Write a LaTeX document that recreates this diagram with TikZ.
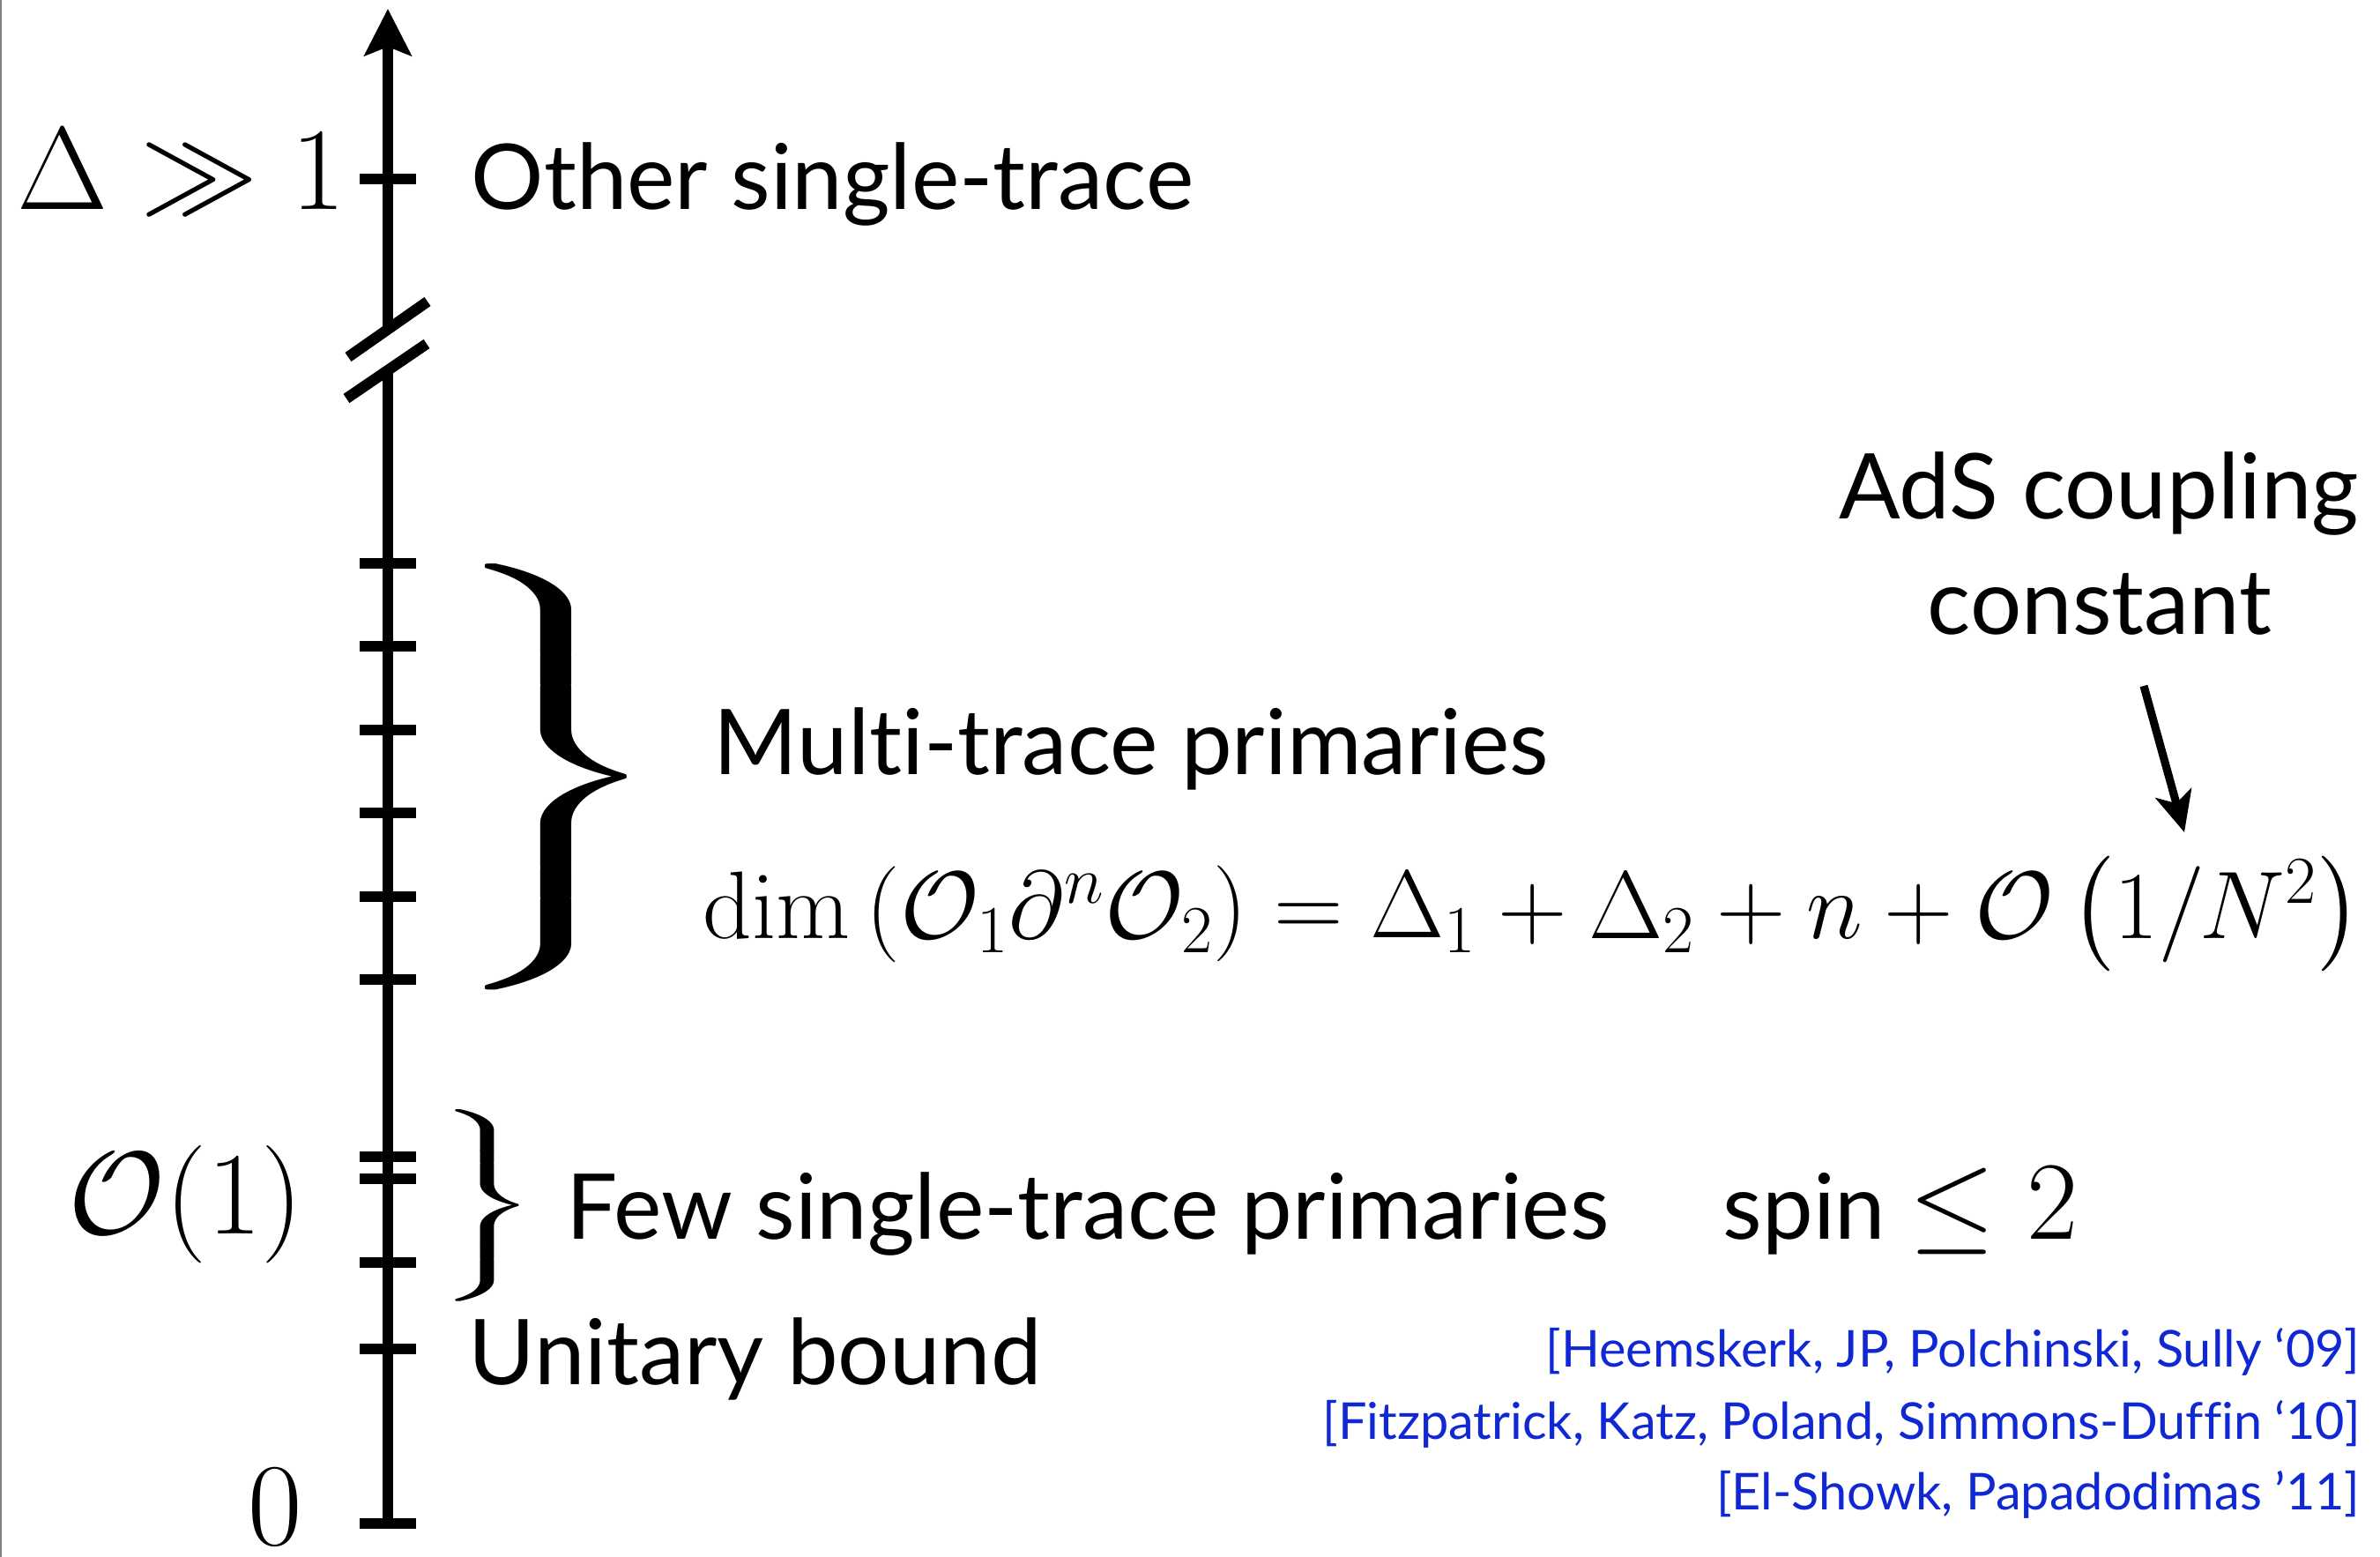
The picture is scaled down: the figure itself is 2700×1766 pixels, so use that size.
\RequirePackage{fix-cm}
\documentclass[tikz,border=0pt]{standalone}
\usepackage{amsmath,amssymb}
\usepackage[no-math]{fontspec}
\setmainfont{Lato}[Ligatures={TeX,NoCommon}]
\usepackage{graphicx}
\usepackage{xcolor}
\usepackage{tikz}
\usetikzlibrary{arrows.meta}

\definecolor{refblue}{RGB}{16,40,212}
\newcommand{\tallbrace}{{\nulldelimiterspace=0pt$\left.\vcenter{\hbox{\vrule height 4em width 0pt}}\right\}$}}

\begin{document}
\begin{tikzpicture}[x=0.1mm, y=-0.1mm,
				axisline/.style={line width=3.5pt},
				tickmark/.style={line width=3.5pt},
				lbl/.style={inner sep=0pt, font=\fontsize{29.3}{35}\selectfont},
				mlbl/.style={inner sep=0pt, font=\fontsize{38}{42}\selectfont},
				eqn/.style={inner sep=0pt, font=\fontsize{31}{36}\selectfont},
				refs/.style={inner sep=0pt, text=refblue, font=\fontsize{16.4}{20}\selectfont},
				brc/.style={inner sep=0pt},
				ar/.style={-{Stealth[length=4.6mm,width=4.2mm,inset=1.2mm]}, line width=2.6pt},
			]
			\useasboundingbox (0,0) rectangle (2700,1766);
			\draw[gray, line width=0.6pt] (1,0) -- (1,1766);
			\coordinate (zero)  at (440,1728);
			\coordinate (brklo) at (440,421);
			\coordinate (brkhi) at (440,374);
			\coordinate (top)   at (440,10);
			\draw[axisline] (zero) -- (brklo);
			\draw[axisline, -{Stealth[length=5.3mm,width=5.3mm,inset=1mm]}] (brkhi) -- (top);
			\draw[axisline] (395,405) -- (485,342);
			\draw[axisline] (393,452) -- (484,390);
			\draw[tickmark] (408,203)  -- (472,203);
			\draw[tickmark] (408,639)  -- (472,639);
			\draw[tickmark] (408,733)  -- (472,733);
			\draw[tickmark] (408,828)  -- (472,828);
			\draw[tickmark] (408,922)  -- (472,922);
			\draw[tickmark] (408,1017) -- (472,1017);
			\draw[tickmark] (408,1111) -- (472,1111);
			\draw[tickmark] (408,1312) -- (472,1312);
			\draw[tickmark] (408,1337) -- (472,1337);
			\draw[tickmark] (408,1432) -- (472,1432);
			\draw[tickmark] (408,1530) -- (472,1530);
			\draw[tickmark] (408,1728) -- (472,1728);
			\node[mlbl, anchor=base east] (dlarge) at (392,238) {$\Delta\gg1$};
			\node[lbl, anchor=base west]  (other)  at (534,238) {Other single-trace};
			\node[brc] (bigbr) at (631,881) {\resizebox*{26.1mm}{48.3mm}{\tallbrace}};
			\node[lbl, anchor=base west]  (multi)  at (809,878) {Multi-trace primaries};
			\node[eqn, anchor=base west]  (dimeq)  at (797,1064)
				{$\dim\left(\mathcal{O}_1\partial^n\mathcal{O}_2\right)=\Delta_1+\Delta_2+n+\mathcal{O}\left(1/N^2\right)$};
			\node[lbl, anchor=base] (adsa) at (2381,589) {AdS coupling};
			\node[lbl, anchor=base] (adsb) at (2382,720) {constant};
			\coordinate (cfrom) at (2432,778);
			\coordinate (cto)   at (2478,944);
			\draw[ar] (cfrom) -- (cto);
			\node[mlbl, anchor=base west] (oone) at (77,1399) {$\mathcal{O}(1)$};
			\node[brc] (smbr) at (553,1367) {\resizebox*{11.7mm}{21.8mm}{\tallbrace}};
			\node[lbl, anchor=base west] (few)  at (642,1405) {Few single-trace primaries};
			\node[lbl, anchor=base west] (spin) at (1954,1405) {spin {\fontsize{36}{40}\selectfont$\leq 2$}};
			\node[lbl, anchor=base west] (unit) at (531,1570) {Unitary bound};
			\node[mlbl, anchor=base] (zlbl) at (312,1752) {$0$};
			\node[refs, anchor=base east] (ref1) at (2678,1550) {[Heemskerk, JP, Polchinski, Sully ‘09]};
			\node[refs, anchor=base east] (ref2) at (2678,1632) {[Fitzpatrick, Katz, Poland, Simmons-Duffin ‘10]};
			\node[refs, anchor=base east] (ref3) at (2678,1712) {[El-Showk, Papadodimas ’11]};
		\end{tikzpicture}
\end{document}
